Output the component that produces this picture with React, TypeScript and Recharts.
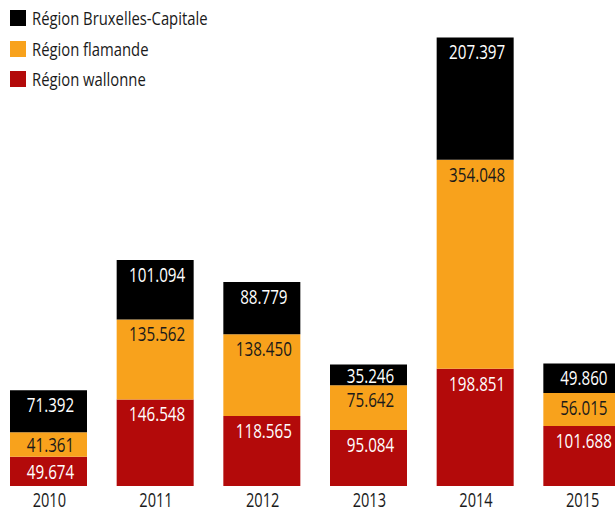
import { BarChart, Bar, XAxis, YAxis, LabelList } from "recharts";

const years = ["2010", "2011", "2012", "2013", "2014", "2015"];
const wallonne = [49.674, 146.548, 118.565, 95.084, 198.851, 101.688];
const flamande = [41.361, 135.562, 138.45, 75.642, 354.048, 56.015];
const bruxelles = [71.392, 101.094, 88.779, 35.246, 207.397, 49.86];

// no condensed font installed, so the narrow lettering is squeezed horizontally
const FONT = '"Open Sans", sans-serif';
const SQUEEZE = 0.76;

const SERIES = [
  { key: "wallonne", name: "Région wallonne", color: "#b30a0a", text: "#ffffff" },
  { key: "flamande", name: "Région flamande", color: "#f8a21c", text: "#1a1a1a" },
  { key: "bruxelles", name: "Région Bruxelles-Capitale", color: "#000000", text: "#ffffff" },
];

const data = years.map((year, i) => ({
  year,
  wallonne: wallonne[i],
  flamande: flamande[i],
  bruxelles: bruxelles[i],
}));

const fmt = (v: number) => v.toFixed(3);

function makeLabel(color: string) {
  return (props: any) => {
    const { x, y, width, height, value } = props;
    const dy = Math.min(14, height / 2);
    return (
      <text
        transform={`translate(${x + width / 2 + 2}, ${y + dy}) scale(${SQUEEZE}, 1)`}
        x={0}
        y={0}
        textAnchor="middle"
        dominantBaseline="central"
        fill={color}
        fontFamily={FONT}
        fontSize={20}
      >
        {fmt(value)}
      </text>
    );
  };
}

function YearTick(props: any) {
  const { x, y, payload } = props;
  return (
    <text
      transform={`translate(${x + 1}, ${y + 13}) scale(0.73, 1)`}
      x={0}
      y={0}
      textAnchor="middle"
      dominantBaseline="central"
      fill="#1a1a1a"
      fontFamily={FONT}
      fontSize={20}
    >
      {payload.value}
    </text>
  );
}

function LegendBox() {
  const items = [...SERIES].reverse();
  return (
    <div
      style={{
        position: "absolute",
        left: 10,
        top: 3,
        fontFamily: FONT,
        fontSize: 19,
        color: "#1a1a1a",
      }}
    >
      {items.map((s) => (
        <div key={s.key} style={{ display: "flex", alignItems: "center", height: 30.5 }}>
          <span
            style={{
              display: "inline-block",
              width: 16,
              height: 16,
              background: s.color,
              marginRight: 6,
              flex: "none",
            }}
          />
          <span
            style={{
              display: "inline-block",
              whiteSpace: "nowrap",
              transform: "scaleX(0.78)",
              transformOrigin: "left center",
            }}
          >
            {s.name}
          </span>
        </div>
      ))}
    </div>
  );
}

export default function App() {
  return (
    <div
      style={{
        position: "absolute",
        left: 0,
        top: 0,
        width: 615,
        height: 509,
        overflow: "hidden",
        background: "#fff",
      }}
    >
      <div style={{ position: "absolute", left: -5, top: 0 }}>
        <BarChart
          width={640}
          height={509}
          data={data}
          margin={{ top: 14, right: 0, bottom: 0, left: 0 }}
        >
          <XAxis
            dataKey="year"
            axisLine={false}
            tickLine={false}
            tickSize={0}
            tickMargin={0}
            height={23}
            tick={<YearTick />}
            interval={0}
          />
          <YAxis hide domain={[0, 800]} />
          {SERIES.map((s) => (
            <Bar
              key={s.key}
              dataKey={s.key}
              name={s.name}
              stackId="a"
              fill={s.color}
              barSize={77}
              isAnimationActive={false}
            >
              <LabelList dataKey={s.key} content={makeLabel(s.text)} />
            </Bar>
          ))}
        </BarChart>
      </div>
      <LegendBox />
    </div>
  );
}
